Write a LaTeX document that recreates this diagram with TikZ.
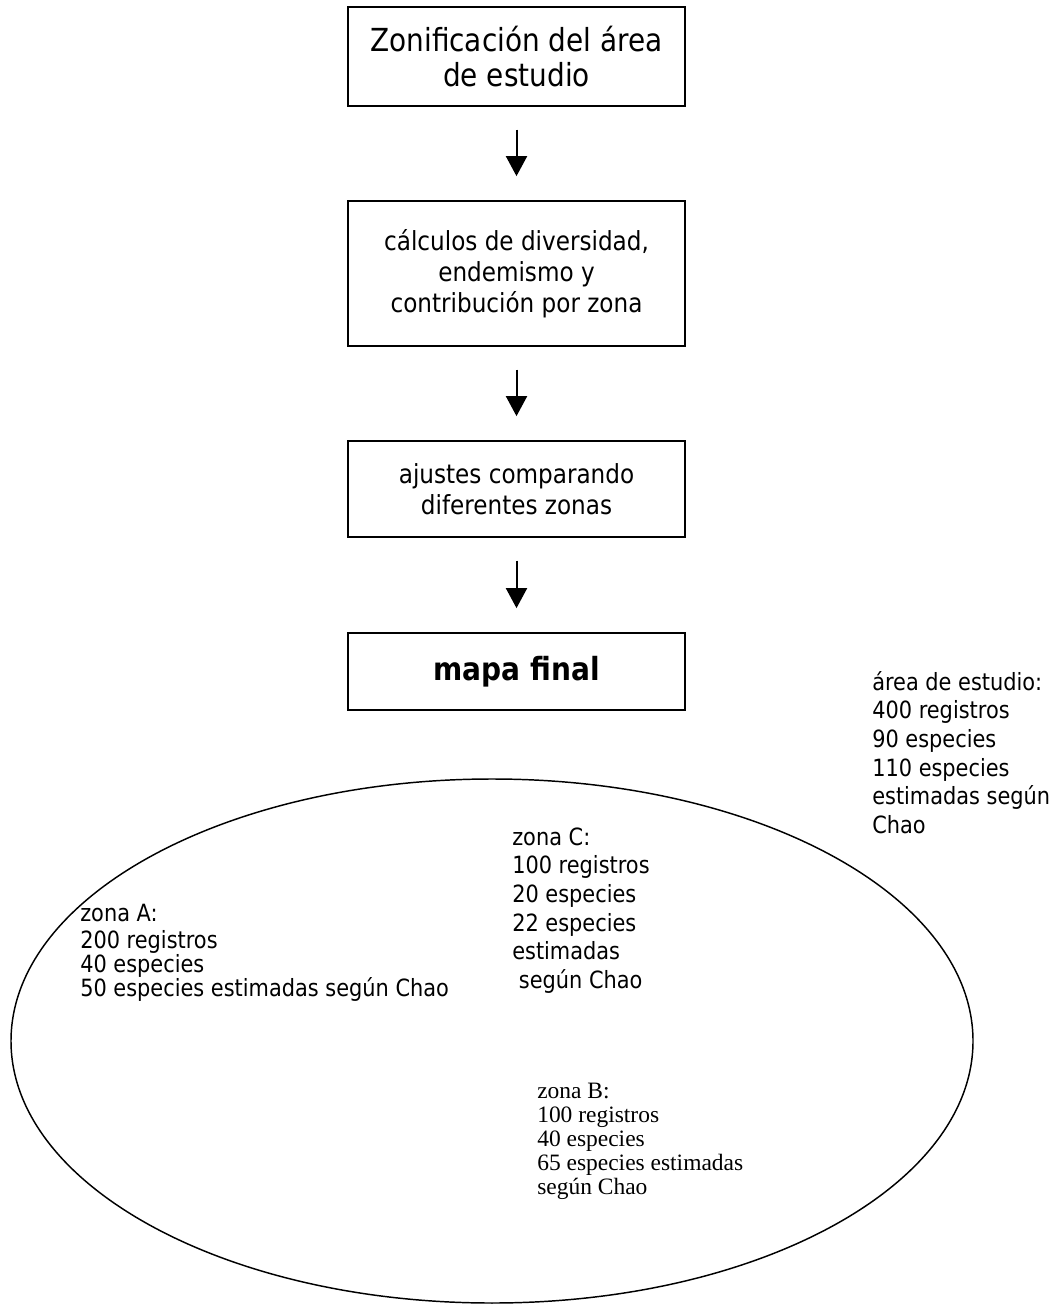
\documentclass[tikz,border=0pt]{standalone}
\usepackage{fontspec}
\setmainfont{DejaVu Sans}[FakeStretch=0.88]
\newfontfamily\timesfont{Liberation Serif}
\usetikzlibrary{arrows.meta,shapes.geometric}
\begin{document}
\begin{tikzpicture}[x=0.75pt,y=-0.75pt,
  stepbox/.style={draw, line width=1.3pt, rectangle, inner sep=0pt, minimum width=252.75pt, align=center},
  flow/.style={-{Triangle[width=15.75pt,length=15pt]}, line width=1.5pt, shorten <=17pt, shorten >=18pt},
  info/.style={anchor=north west, inner sep=0pt, align=left, font=\fontsize{17.8}{21.45}\selectfont},
]
\useasboundingbox (0,0) rectangle (1055,1305);

\node[stepbox, minimum height=74.25pt, font=\fontsize{23.8}{26.25}\selectfont] (b1) at (516.5,56.5) {Zonificación del área\\de estudio};
\node[stepbox, minimum height=108.75pt, font=\fontsize{19.7}{23.25}\selectfont] (b2) at (516.5,273.5) {cálculos de diversidad,\\endemismo y\\contribución por zona};
\node[stepbox, minimum height=72pt, font=\fontsize{19.7}{23.25}\selectfont] (b3) at (516.5,489) {ajustes comparando\\diferentes zonas};
\node[stepbox, minimum height=57.75pt, font=\bfseries\fontsize{23.9}{26.25}\selectfont] (b4) at (516.5,671.5) {mapa final};

\draw[flow] (b1) -- (b2);
\draw[flow] (b2) -- (b3);
\draw[flow] (b3) -- (b4);

\node[draw, ellipse, line width=1.1pt, inner sep=0pt, minimum width=721.5pt, minimum height=393pt] (zone) at (492,1041) {};

\node[info] (area) at (872,670) {\strut área de estudio:\\400 registros\\90 especies\\110 especies\\estimadas según\\Chao};
\node[info] (zc) at (512,825) {\strut zona C:\\100 registros\\20 especies\\22 especies\\estimadas\\\ según Chao};
\node[info, font=\fontsize{17.8}{18}\selectfont] (za) at (80,904) {\strut zona A:\\200 registros\\40 especies\\50 especies estimadas según Chao};
\node[info, font=\timesfont\fontsize{17.6}{18}\selectfont] (zb) at (537,1081) {\strut zona B:\\100 registros\\40 especies\\65 especies estimadas\\según Chao};
\end{tikzpicture}
\end{document}
